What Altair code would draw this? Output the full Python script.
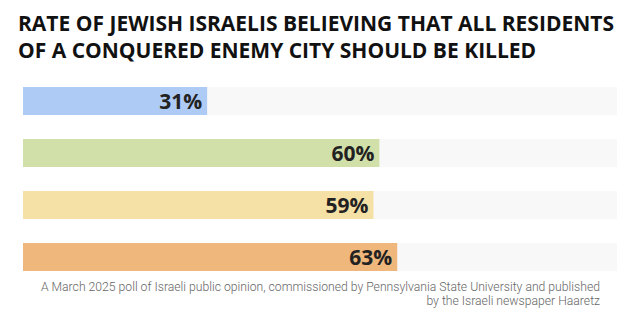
import altair as alt
import pandas as pd

categories = ["Group 1", "Group 2", "Group 3", "Group 4"]
values = [31, 60, 59, 63]
colors = ["#aecbf5", "#d1e0a8", "#f5e0a6", "#efb77b"]
labels = ["31%", "60%", "59%", "63%"]
title_lines = ["RATE OF JEWISH ISRAELIS BELIEVING THAT ALL RESIDENTS",
               "OF A CONQUERED ENEMY CITY SHOULD BE KILLED"]
caption_lines = ["A March 2025 poll of Israeli public opinion, commissioned by Pennsylvania State University and published",
                 "by the Israeli newspaper Haaretz"]

df = pd.DataFrame({"cat": categories, "value": values, "full": [100] * 4, "label": labels})

W, H = 594, 208
y = alt.Y("cat:N", sort=categories, axis=None,
          scale=alt.Scale(paddingInner=0, paddingOuter=0))
xs = alt.Scale(domain=[0, 100], nice=False, zero=True)

bg = alt.Chart(df).mark_bar(height=28, color="#f8f8f8").encode(
    x=alt.X("full:Q", scale=xs, axis=None), y=y)
bars = alt.Chart(df).mark_bar(height=28).encode(
    x=alt.X("value:Q", scale=xs, axis=None), y=y,
    color=alt.Color("cat:N", scale=alt.Scale(domain=categories, range=colors), legend=None))
txt = alt.Chart(df).mark_text(align="right", baseline="middle", dx=-5, dy=2,
                              font="Open Sans", fontWeight="bold", fontSize=21,
                              color="#222222").encode(
    x=alt.X("value:Q", scale=xs), y=y, text="label:N")

title = alt.Chart(pd.DataFrame({"t": [title_lines]})).mark_text(
    align="left", baseline="alphabetic", font="Open Sans", fontWeight="bold",
    fontSize=21, lineHeight=27, color="#111111").encode(
    x=alt.value(-5), y=alt.value(31 - 75), text="t")

caption = alt.Chart(pd.DataFrame({"t": [caption_lines]})).mark_text(
    align="right", baseline="alphabetic", font="Roboto", fontWeight=300,
    fontSize=12.2, lineHeight=13.5, color="#666666").encode(
    x=alt.value(577), y=alt.value(291 - 75), text="t")

chart = alt.layer(bg, bars, txt, title, caption).properties(
    width=W, height=H,
    autosize=alt.AutoSizeParams(type="none"),
    padding={"left": 23, "top": 75, "right": 25, "bottom": 42},
    background="white",
).configure_view(stroke=None)

chart.save("out.html", embed_options={"renderer": "svg", "actions": False})
